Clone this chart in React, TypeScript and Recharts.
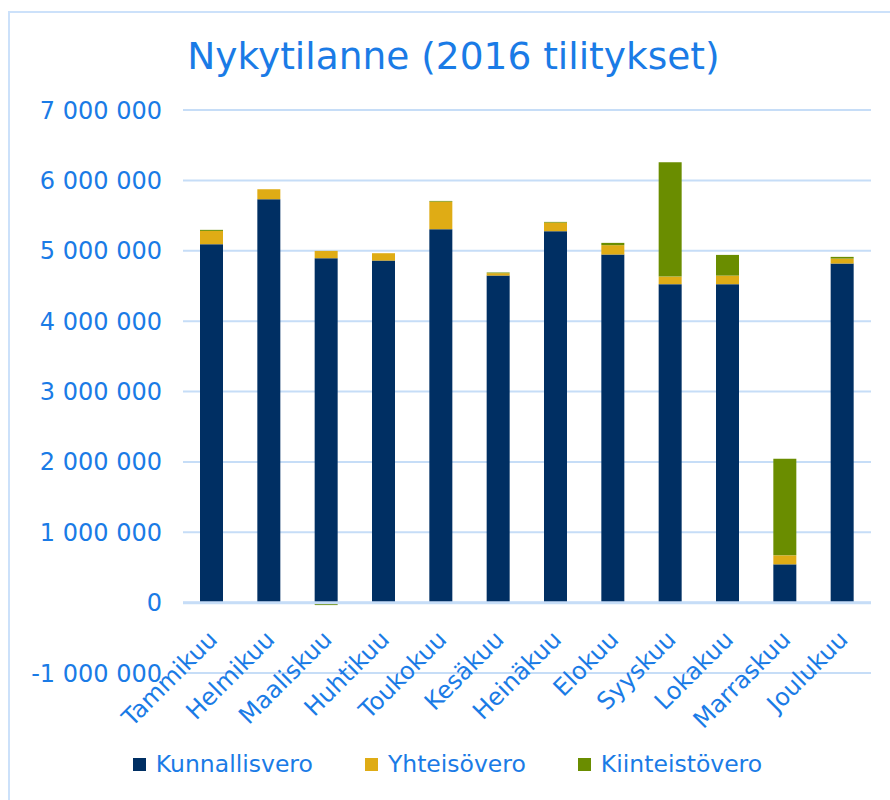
import React from "react";
import { BarChart, Bar, XAxis, YAxis, CartesianGrid, Legend, ReferenceLine } from "recharts";

const months = [
  "Tammikuu", "Helmikuu", "Maaliskuu", "Huhtikuu", "Toukokuu", "Kesäkuu",
  "Heinäkuu", "Elokuu", "Syyskuu", "Lokakuu", "Marraskuu", "Joulukuu",
];
const kunnallisvero = [5093000, 5732000, 4894000, 4860000, 5306000, 4647000, 5278000, 4946000, 4525000, 4525000, 544000, 4818000];
const yhteisovero = [189000, 142000, 104000, 105000, 392000, 34000, 122000, 133000, 108000, 122000, 128000, 71000];
const kiinteistovero = [15000, 0, -35000, 0, 10000, 10000, 10000, 33000, 1624000, 294000, 1373000, 24000];
const yTicks = [-1000000, 0, 1000000, 2000000, 3000000, 4000000, 5000000, 6000000, 7000000];
const seriesNames = ["Kunnallisvero", "Yhteisövero", "Kiinteistövero"];

const data = months.map((m, i) => ({
  month: m,
  Kunnallisvero: kunnallisvero[i],
  "Yhteisövero": yhteisovero[i],
  "Kiinteistövero": kiinteistovero[i],
}));

const FONT = "'DejaVu Sans', Verdana, sans-serif";
const TEXT = "#1a7be6";
const GRID = "#c6ddf7";

const fmt = (v: number) => {
  const s = String(Math.abs(v)).replace(/\B(?=(\d{3})+(?!\d))/g, " ");
  return v < 0 ? "-" + s : s;
};

const MonthTick = ({ x, y, payload }: any) => (
  <g transform={`translate(${x + 7},${y - 40})`}>
    <text textAnchor="end" transform="rotate(-45)" fill={TEXT} fontSize={24} fontFamily={FONT}>
      {payload.value}
    </text>
  </g>
);

const renderLegend = ({ payload }: any) => {
  const items = [...(payload || [])].sort(
    (a: any, b: any) => seriesNames.indexOf(a.value) - seriesNames.indexOf(b.value)
  );
  return (
    <div
      style={{
        display: "flex",
        justifyContent: "center",
        gap: 52,
        paddingLeft: 24,
        fontFamily: FONT,
        fontSize: 23.5,
        lineHeight: "28px",
        color: TEXT,
      }}
    >
      {items.map((entry: any) => (
        <span key={entry.value} style={{ display: "flex", alignItems: "center" }}>
          <span style={{ width: 13, height: 13, background: entry.color, marginRight: 10, display: "inline-block" }} />
          {entry.value}
        </span>
      ))}
    </div>
  );
};

export default function App() {
  return (
    <div style={{ position: "absolute", left: 0, top: 0, width: 890, height: 800, background: "#fff", overflow: "hidden" }}>
      <div
        style={{
          position: "absolute",
          left: 8,
          top: 11,
          width: 880,
          height: 787,
          borderTop: "2px solid #cce1fa",
          borderLeft: "2px solid #cce1fa",
        }}
      />
      <div
        style={{
          position: "absolute",
          top: 35,
          left: 0,
          width: 907,
          textAlign: "center",
          fontFamily: FONT,
          fontSize: 37.5,
          lineHeight: "43px",
          color: TEXT,
        }}
      >
        Nykytilanne (2016 tilitykset)
      </div>
      <div style={{ position: "absolute", left: 0, top: 0 }}>
        <BarChart
          width={890}
          height={800}
          data={data}
          stackOffset="sign"
          barSize={23}
          margin={{ top: 110, right: 19, bottom: 22, left: 0 }}
        >
          <CartesianGrid vertical={false} stroke={GRID} strokeWidth={2} />
          <XAxis
            dataKey="month"
            axisLine={false}
            tickLine={false}
            interval={0}
            height={77}
            tick={<MonthTick />}
          />
          <YAxis
            width={183}
            domain={[-1000000, 7000000]}
            ticks={yTicks}
            tickFormatter={fmt}
            axisLine={false}
            tickLine={false}
            tickMargin={15}
            tick={{ fill: TEXT, fontSize: 24, fontFamily: FONT }}
          />
          <ReferenceLine y={0} stroke={GRID} strokeWidth={3} />
          <Bar dataKey="Kunnallisvero" stackId="a" fill="#002f63" isAnimationActive={false} />
          <Bar dataKey="Yhteisövero" stackId="a" fill="#dfac15" isAnimationActive={false} />
          <Bar dataKey="Kiinteistövero" stackId="a" fill="#6a8d00" isAnimationActive={false} />
          <Legend verticalAlign="bottom" height={28} content={renderLegend} />
        </BarChart>
      </div>
    </div>
  );
}
